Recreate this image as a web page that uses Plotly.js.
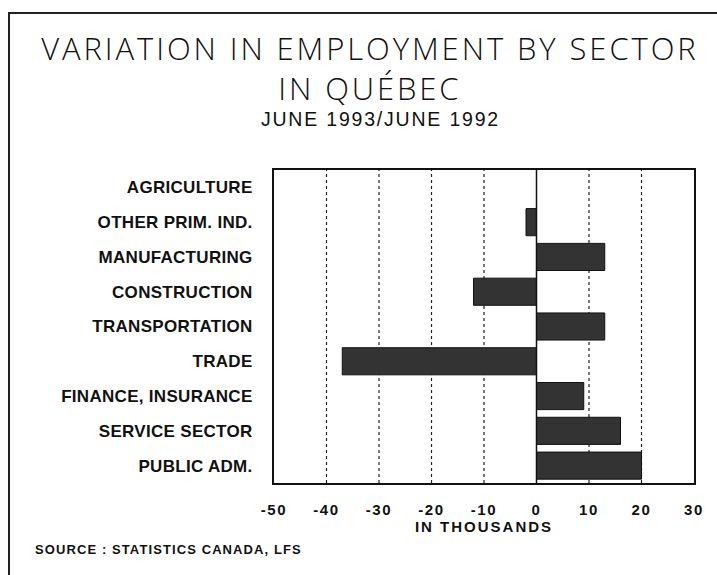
<!DOCTYPE html>
<html>
<head>
<meta charset="utf-8">
<script src="https://cdn.plot.ly/plotly-3.0.1.min.js"></script>
<style>
  html, body { margin:0; padding:0; background:#fff; }
  #frame { position:absolute; left:8px; top:12px; width:720px; height:580px;
           border-left:2px solid #222; border-top:2px solid #222; }
  #chart { position:absolute; left:0; top:0; width:717px; height:575px; }
  /* the original lettering is wide and loosely spaced */
  #chart .ytick text { letter-spacing:0.3px; }
  #chart .xtick text { letter-spacing:1.6px; }
  #chart .xtitle { letter-spacing:2px; }
  #chart .annotation[data-index="0"] text { letter-spacing:2.9px; }
  #chart .annotation[data-index="1"] text { letter-spacing:1.8px; }
  #chart .annotation[data-index="2"] text { letter-spacing:1.1px; }
</style>
</head>
<body>
<div id="frame"></div>
<div id="chart"></div>
<script>
  // sectors, top to bottom
  const sectors = ["AGRICULTURE", "OTHER PRIM. IND.", "MANUFACTURING", "CONSTRUCTION",
                   "TRANSPORTATION", "TRADE", "FINANCE, INSURANCE", "SERVICE SECTOR", "PUBLIC ADM."];
  // change in employment, thousands
  const change = [0, -2, 13, -12, 13, -37, 9, 16, 20];
  const xTicks = [-50, -40, -30, -20, -10, 0, 10, 20, 30];
  const gridAt = [-40, -30, -20, -10, 10, 20];

  const lab = "Liberation Sans, Arial, sans-serif";
  const thin = "Open Sans, Liberation Sans, sans-serif";

  const bars = {
    type:"bar", orientation:"h", x:change, y:sectors, width:0.78,
    marker:{color:"#333", line:{color:"#111", width:1}}, hoverinfo:"skip"
  };

  const shapes = gridAt.map(v => ({
    type:"line", xref:"x", yref:"paper", x0:v, x1:v, y0:0, y1:1, layer:"below",
    line:{color:"#222", width:1.2, dash:"dot"}
  }));
  shapes.push({type:"line", xref:"x", yref:"paper", x0:0, x1:0, y0:0, y1:1,
    line:{color:"#111", width:1.5}});

  const layout = {
    width:717, height:575,
    paper_bgcolor:"rgba(0,0,0,0)", plot_bgcolor:"rgba(0,0,0,0)",
    margin:{l:274, r:23, t:170, b:92},
    showlegend:false,
    font:{family:lab, color:"#111"},
    xaxis:{range:[-50, 30], tickvals:xTicks, ticktext:xTicks.map(String),
      showgrid:false, zeroline:false, showline:true, mirror:true,
      linecolor:"#111", linewidth:2, ticks:"", ticklabelstandoff:12,
      tickfont:{family:lab, size:15, color:"#111", weight:"bold"},
      title:{text:"IN THOUSANDS", standoff:3, font:{family:lab, size:15, color:"#111", weight:"bold"}}},
    yaxis:{autorange:"reversed", showgrid:false, zeroline:false, showline:true, mirror:true,
      linecolor:"#111", linewidth:2, ticks:"", ticklabelstandoff:16,
      tickfont:{family:lab, size:17, color:"#111", weight:"bold"}},
    shapes:shapes,
    annotations:[
      {text:"VARIATION IN EMPLOYMENT BY SECTOR<br>IN QUÉBEC", xref:"paper", yref:"paper",
       x:(370-274)/420, y:1 + (170-68)/313, xanchor:"center", yanchor:"middle", showarrow:false,
       align:"center", font:{family:thin, size:31, color:"#111", weight:300}},
      {text:"JUNE 1993/JUNE 1992", xref:"paper", yref:"paper",
       x:(380-274)/420, y:1 + (170-119)/313, xanchor:"center", yanchor:"middle", showarrow:false,
       font:{family:lab, size:19.5, color:"#111"}},
      {text:"<b>SOURCE : STATISTICS CANADA, LFS</b>", xref:"paper", yref:"paper",
       x:(50-274)/420, y:-(549-483)/313, xanchor:"left", yanchor:"middle", showarrow:false,
       font:{family:lab, size:13, color:"#111"}}
    ]
  };

  Plotly.newPlot("chart", [bars], layout, {displayModeBar:false, staticPlot:true});
</script>
</body>
</html>
